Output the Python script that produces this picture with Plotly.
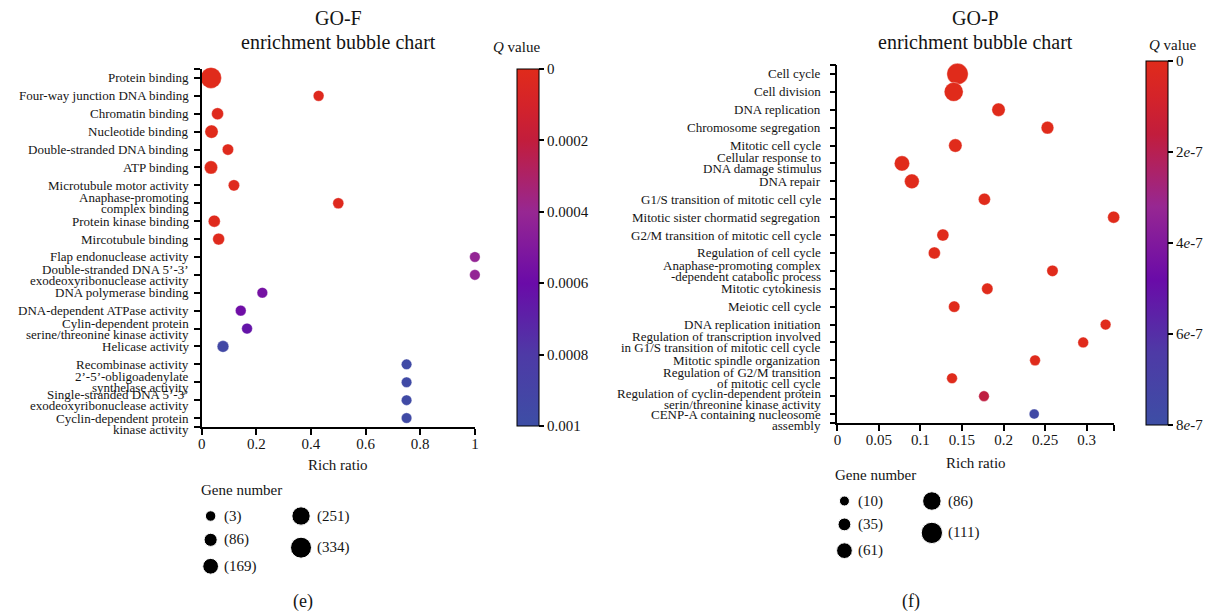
import plotly.graph_objects as go

# ---------------- data ----------------
f_terms = [
    "Protein binding",
    "Four-way junction DNA binding",
    "Chromatin binding",
    "Nucleotide binding",
    "Double-stranded DNA binding",
    "ATP binding",
    "Microtubule motor activity",
    "Anaphase-promoting\ncomplex binding",
    "Protein kinase binding",
    "Mircotubule binding",
    "Flap endonuclease activity",
    "Double-stranded DNA 5\u2019-3\u2019\nexodeoxyribonuclease activity",
    "DNA polymerase binding",
    "DNA-dependent ATPase activity",
    "Cylin-dependent protein\nserine/threonine kinase activity",
    "Helicase activity",
    "Recombinase activity",
    "2\u2019-5\u2019-obligoadenylate\nsynthelase activity",
    "Single-stranded DNA 5\u2019-3\u2019\nexodeoxyribonuclease activity",
    "Cyclin-dependent protein\nkinase activity",
]
f_ratio = [0.034, 0.428, 0.058, 0.036, 0.096, 0.034, 0.118, 0.50, 0.046, 0.062,
           1.0, 1.0, 0.222, 0.143, 0.166, 0.078, 0.75, 0.75, 0.75, 0.75]
f_genes = [334, 12, 50, 90, 28, 90, 28, 18, 50, 45,
           5, 5, 8, 10, 10, 40, 3, 3, 3, 3]
f_q = [1e-6, 2e-5, 1e-5, 1e-6, 1e-5, 1e-6, 1e-5, 2e-5, 1e-5, 1e-5,
       4.2e-4, 4.2e-4, 5.5e-4, 5.8e-4, 6.4e-4, 9.4e-4, 9.6e-4, 9.6e-4, 9.6e-4, 9.6e-4]
f_legend_genes = [3, 86, 169, 251, 334]
f_cb_ticks = [0, 0.0002, 0.0004, 0.0006, 0.0008, 0.001]
f_cb_text = ["0", "0.0002", "0.0004", "0.0006", "0.0008", "0.001"]
f_x_ticks = [0, 0.2, 0.4, 0.6, 0.8, 1.0]
f_x_text = ["0", "0.2", "0.4", "0.6", "0.8", "1"]

p_terms = [
    "Cell cycle",
    "Cell division",
    "DNA replication",
    "Chromosome segregation",
    "Mitotic cell cycle",
    "Cellular response to\nDNA damage stimulus",
    "DNA repair",
    "G1/S transition of mitotic cell cyle",
    "Mitotic sister chormatid segregation",
    "G2/M transition of mitotic cell cycle",
    "Regulation of cell cycle",
    "Anaphase-promoting complex\n-dependent catabolic process",
    "Mitotic cytokinesis",
    "Meiotic cell cycle",
    "DNA replication initiation",
    "Regulation of transcription involved\nin G1/S transition of mitotic cell cycle",
    "Mitotic spindle organization",
    "Regulation of G2/M transition\nof mitotic cell cycle",
    "Regulation of cyclin-dependent protein\nserin/threonine kinase activity",
    "CENP-A containing nucleosome\nassembly",
]
p_ratio = [0.1446, 0.140, 0.194, 0.253, 0.142, 0.0777, 0.0896, 0.177, 0.3327, 0.127,
           0.1167, 0.259, 0.1805, 0.1406, 0.323, 0.296, 0.238, 0.138, 0.1765, 0.237]
p_genes = [111, 90, 40, 34, 40, 57, 52, 28, 28, 28,
           28, 22, 22, 22, 16, 16, 16, 16, 15, 10]
p_q = [1e-12, 1e-12, 1e-11, 1e-10, 1e-11, 1e-10, 1e-10, 1e-9, 1e-9, 1e-9,
       1e-9, 2e-9, 2e-9, 2e-9, 3e-9, 3e-9, 4e-9, 5e-9, 1.7e-7, 7.6e-7]
p_legend_genes = [10, 35, 61, 86, 111]
p_cb_ticks = [0, 2e-7, 4e-7, 6e-7, 8e-7]
p_cb_text = ["0", "2<i>e</i>-7", "4<i>e</i>-7", "6<i>e</i>-7", "8<i>e</i>-7"]
p_x_ticks = [0, 0.05, 0.1, 0.15, 0.2, 0.25, 0.3]
p_x_text = ["0", "0.05", "0.1", "0.15", "0.2", "0.25", "0.3"]

# ---------------- style / layout ----------------
W, H = 1217, 614
FONT = "Liberation Serif"
TXT = "#141414"
CS = [[0.0, "#3d4ea5"], [0.2, "#4e3aa6"], [0.4, "#6a0ba8"], [0.6, "#972792"],
      [0.8, "#c21d3c"], [0.9, "#d4232a"], [1.0, "#e02b1b"]]


def px(x):
    return x / W


def py(y):
    return 1 - y / H


def note(x, y, text, size, xanchor="center", **kw):
    d = dict(x=px(x), y=py(y), xref="paper", yref="paper", xanchor=xanchor,
             yanchor="middle", text=text, showarrow=False, borderpad=0,
             font=dict(family=FONT, size=size, color=TXT))
    d.update(kw)
    return d


panels = [
    dict(terms=f_terms, ratio=f_ratio, genes=f_genes, q=f_q, leg=f_legend_genes,
         cbt=f_cb_ticks, cbtx=f_cb_text, xt=f_x_ticks, xtx=f_x_text,
         title="GO-F", tag="(e)", xmax=1.0,
         x0=199, x1=474, yt=69, yb=427, dmin=10.5, dmax=21, lab_x=187, lab_fs=13,
         lab_nudge={19: 6},
         cb_x=516, cb_top=69, cb_len=357, cbtitle_x=516, cbtitle_y=47,
         xtitle_y=465, leg_x=197, leg_title_y=490, leg_y0=516, col_dx=91, tag_x=301,
         ax="x", ay="y", axn="xaxis", ayn="yaxis"),
    dict(terms=p_terms, ratio=p_ratio, genes=p_genes, q=p_q, leg=p_legend_genes,
         cbt=p_cb_ticks, cbtx=p_cb_text, xt=p_x_ticks, xtx=p_x_text,
         title="GO-P", tag="(f)", xmax=0.3327,
         x0=839, x1=1117, yt=65, yb=423, dmin=10, dmax=21.3, lab_x=823, lab_fs=13,
         lab_nudge={18: 3, 19: 6},
         cb_x=1150, cb_top=61, cb_len=364, cbtitle_x=1176, cbtitle_y=45,
         xtitle_y=463, leg_x=835, leg_title_y=475, leg_y0=501, col_dx=88, tag_x=913,
         ax="x2", ay="y2", axn="xaxis2", ayn="yaxis2"),
]

fig = go.Figure()
annotations = []
layout_axes = {}

for P in panels:
    nmin, nmax = min(P["leg"]), max(P["leg"])

    def dsize(n, P=P, nmin=nmin, nmax=nmax):
        return P["dmin"] + (P["dmax"] - P["dmin"]) * (n - nmin) / (nmax - nmin)

    n = len(P["terms"])
    qmax = max(P["cbt"])
    fig.add_trace(go.Scatter(
        x=P["ratio"], y=list(range(n)), mode="markers", cliponaxis=False,
        xaxis=P["ax"], yaxis=P["ay"], showlegend=False,
        marker=dict(
            size=[dsize(g) for g in P["genes"]], opacity=1,
            color=[-v for v in P["q"]], colorscale=CS, cmin=-qmax, cmax=0,
            line=dict(width=0.6, color="rgba(255,255,255,0.6)"),
            colorbar=dict(
                x=px(P["cb_x"]), xanchor="left", y=py(P["cb_top"]), yanchor="top",
                len=P["cb_len"], lenmode="pixels", thickness=22, thicknessmode="pixels",
                xpad=0, ypad=0, outlinewidth=1, outlinecolor="black",
                ticks="outside", ticklen=5, tickwidth=1.5, tickcolor="black",
                tickvals=[-v for v in P["cbt"]], ticktext=P["cbtx"],
                tickfont=dict(family=FONT, size=15, color=TXT),
            ),
        ),
    ))

    layout_axes[P["axn"]] = dict(
        domain=[px(P["x0"]), px(P["x1"])], range=[0, P["xmax"]], anchor=P["ay"],
        showgrid=False, zeroline=False, showline=True, linecolor="black", linewidth=1.5,
        ticks="outside", ticklen=6, tickwidth=1.5, tickcolor="black",
        tickvals=P["xt"] + [P["xmax"]], ticktext=P["xtx"] + [""],
        ticklabelstandoff=-4,
        tickfont=dict(family=FONT, size=15, color=TXT),
    )
    layout_axes[P["ayn"]] = dict(
        domain=[py(P["yb"]), py(P["yt"])], range=[n - 0.5, -0.5], anchor=P["ax"],
        showgrid=False, zeroline=False, showline=True, linecolor="black", linewidth=1.5,
        ticks="outside", ticklen=6, tickwidth=1.5, tickcolor="black",
        tickvals=[-0.5] + list(range(n)) + [n - 0.5], showticklabels=False,
    )

    # category labels (one annotation per text line for tight line spacing)
    for i, t in enumerate(P["terms"]):
        lines = t.split("\n")
        k = len(lines)
        nudge = P["lab_nudge"].get(i, 0)
        for j, ln in enumerate(lines):
            annotations.append(dict(
                x=px(P["lab_x"]), xref="paper", xanchor="right",
                y=i, yref=P["ay"], yanchor="middle",
                yshift=((k - 1) / 2 - j) * 11 - nudge, text=ln, showarrow=False,
                font=dict(family=FONT, size=P["lab_fs"], color=TXT), borderpad=0,
            ))

    cx = (P["x0"] + P["x1"]) / 2
    annotations += [
        note(cx, 18, P["title"], 20),
        note(cx, 42, "enrichment bubble chart", 20),
        note(cx, P["xtitle_y"], "Rich ratio", 15),
        note(P["cbtitle_x"], P["cbtitle_y"], "<i>Q</i> value", 15),
        note(P["leg_x"], P["leg_title_y"], "Gene number", 15, xanchor="left"),
        note(P["tag_x"], 601, P["tag"], 18),
    ]

    # size legend: columns of 3, stacked with a constant gap
    lx, ly, lsz = [], [], []
    cols = [P["leg"][0:3], P["leg"][3:]]
    for c, items in enumerate(cols):
        x_c = P["leg_x"] + 11 + c * P["col_dx"]
        rmax = max(dsize(g) for g in items) / 2
        y_c = P["leg_y0"]
        prev_r = None
        for g in items:
            r = dsize(g) / 2
            if prev_r is not None:
                y_c += prev_r + r + 12
            prev_r = r
            lx.append(x_c)
            ly.append(y_c)
            lsz.append(dsize(g))
            annotations.append(note(x_c + rmax + 5, y_c, "(%d)" % g, 15, xanchor="left"))
    fig.add_trace(go.Scatter(
        x=lx, y=ly, mode="markers", xaxis="x3", yaxis="y3", showlegend=False,
        marker=dict(size=lsz, color="black", opacity=1), hoverinfo="skip",
    ))

layout_axes["xaxis3"] = dict(domain=[0, 1], range=[0, W], visible=False, fixedrange=True)
layout_axes["yaxis3"] = dict(domain=[0, 1], range=[H, 0], visible=False, fixedrange=True)

fig.update_layout(
    width=W, height=H, autosize=False,
    margin=dict(l=0, r=0, t=0, b=0),
    paper_bgcolor="white", plot_bgcolor="rgba(0,0,0,0)",
    annotations=annotations,
    font=dict(family=FONT, color=TXT),
    **layout_axes,
)

fig.write_html("out.html", config={"displayModeBar": False},
               post_script="document.body.style.margin='0px';")
